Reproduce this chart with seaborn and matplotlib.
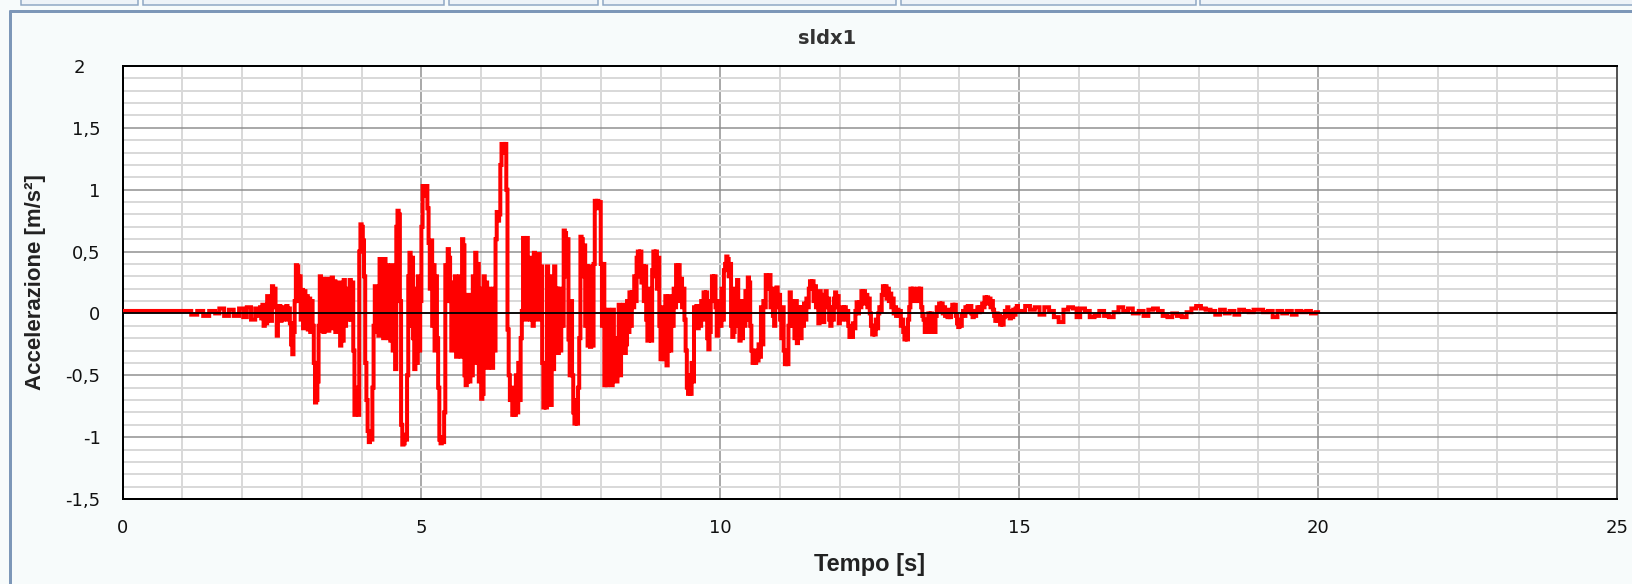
import numpy as np
import pandas as pd
import matplotlib
matplotlib.use("Agg")
import matplotlib.pyplot as plt
import matplotlib.transforms as mtransforms
import seaborn as sns
from matplotlib.ticker import MultipleLocator, FuncFormatter
from matplotlib.patches import Rectangle
from matplotlib.lines import Line2D

# ---- data (time [s], acceleration [m/s^2]) ----
# quiet start, read point by point
head_time = [0.00, 1.10, 1.15, 1.25, 1.35, 1.45, 1.55, 1.62, 1.70, 1.78, 1.86, 1.95,
             2.02, 2.08, 2.15, 2.22, 2.28]
head_accel = [0.02, 0.02, -0.01, 0.02, -0.02, 0.02, 0.00, 0.04, -0.02, 0.03, -0.02, 0.04,
              -0.03, 0.05, -0.05, 0.04, -0.02]

# strong-motion part, read every 0.02 s from 2.30 s to 15.00 s (one row = 0.5 s)
strong_start = 2.30
strong_dt = 0.02
strong_accel = [
    0.05, -0.04, 0.07, -0.10, 0.05, -0.08, 0.14, -0.05, 0.10, -0.06, 0.22, 0.08, 0.20, 0.05, -0.18, -0.05, 0.06, -0.06, 0.04, -0.05, 0.05, -0.03, 0.06, -0.05, 0.04,
    -0.08, -0.25, -0.33, -0.15, 0.10, 0.39, 0.38, 0.10, 0.30, -0.05, 0.19, -0.12, 0.18, -0.10, 0.14, -0.13, 0.12, -0.15, 0.10, -0.10, -0.40, -0.72, -0.70, -0.55, -0.10,
    0.30, -0.14, 0.28, -0.15, 0.25, -0.12, 0.28, -0.14, 0.22, -0.12, 0.29, -0.10, 0.26, -0.15, 0.20, -0.08, 0.25, -0.26, 0.10, -0.22, 0.27, -0.10, 0.20, -0.05, 0.10,
    0.27, -0.05, 0.25, -0.30, -0.82, -0.80, -0.60, -0.82, 0.50, 0.72, 0.70, 0.59, 0.30, -0.40, -0.70, -0.95, -1.04, -1.00, -1.02, -0.60, -0.10, 0.22, -0.15, 0.20, -0.18,
    0.44, -0.15, 0.40, -0.20, 0.44, -0.18, 0.39, -0.20, 0.35, -0.22, 0.39, -0.30, 0.20, -0.45, 0.70, 0.83, 0.80, 0.10, -0.90, -1.06, -1.05, -0.98, -1.02, -0.50, 0.30,
    0.49, -0.10, 0.45, -0.20, -0.45, 0.20, -0.40, 0.30, -0.30, 0.10, 0.70, 1.03, 1.02, 0.95, 1.03, 0.85, 0.57, 0.20, 0.59, -0.10, 0.39, -0.30, 0.30, -0.20, -0.60,
    -1.02, -1.05, -1.00, -1.04, -0.80, 0.39, 0.10, 0.52, 0.45, 0.10, -0.30, 0.25, -0.29, 0.30, -0.35, 0.25, -0.20, 0.30, -0.35, 0.60, 0.55, -0.50, -0.58, -0.55, 0.15,
    -0.55, 0.10, -0.50, 0.30, -0.30, 0.49, -0.40, 0.40, -0.55, 0.20, -0.69, -0.65, 0.30, -0.30, 0.25, -0.44, 0.20, -0.40, 0.10, -0.44, 0.20, -0.30, 0.60, 0.82, 0.75,
    0.80, 1.20, 1.37, 1.37, 1.30, 1.37, 1.00, -0.13, -0.50, -0.70, -0.60, -0.82, -0.75, -0.82, -0.50, -0.80, -0.40, -0.70, -0.20, 0.02, 0.61, 0.55, -0.05, 0.61, 0.20,
    0.10, -0.05, 0.45, -0.10, 0.49, 0.10, 0.45, -0.05, 0.48, 0.20, 0.38, -0.40, -0.76, -0.70, -0.76, 0.38, -0.70, 0.30, -0.74, 0.20, -0.45, 0.38, -0.30, 0.20, -0.32,
    0.20, -0.30, 0.05, -0.10, 0.67, 0.65, 0.30, 0.60, -0.21, -0.50, 0.10, -0.50, -0.80, -0.89, -0.70, -0.89, -0.60, -0.20, 0.62, 0.60, 0.30, 0.55, -0.10, 0.38, -0.26,
    0.38, -0.27, 0.35, -0.26, 0.40, 0.91, 0.88, 0.91, 0.85, 0.90, 0.40, -0.10, 0.40, -0.58, -0.40, -0.58, 0.03, -0.50, -0.30, -0.58, 0.03, -0.45, -0.20, -0.55, -0.35,
    0.07, -0.50, 0.05, -0.20, 0.07, -0.32, -0.25, 0.10, -0.15, 0.17, -0.10, 0.17, 0.05, 0.30, 0.10, 0.45, 0.50, 0.30, 0.50, 0.25, 0.38, 0.10, 0.38, -0.05, -0.22,
    -0.15, 0.20, -0.22, 0.35, 0.50, 0.30, 0.50, 0.20, 0.45, -0.10, -0.37, -0.30, 0.05, -0.37, 0.14, -0.42, -0.30, 0.14, -0.30, 0.10, -0.10, 0.20, 0.05, 0.39, 0.30,
    0.39, 0.10, 0.28, 0.05, 0.20, -0.05, -0.30, -0.60, -0.65, -0.50, -0.65, -0.40, -0.55, 0.05, -0.10, 0.06, -0.12, 0.06, -0.10, 0.10, -0.05, 0.17, 0.05, 0.17, -0.20,
    -0.29, -0.15, 0.10, 0.30, 0.25, 0.30, 0.05, -0.18, -0.10, 0.10, -0.10, 0.20, -0.05, 0.35, 0.40, 0.46, 0.44, 0.30, 0.40, -0.10, -0.19, -0.15, 0.20, 0.05, 0.27,
    -0.10, -0.22, 0.10, -0.20, 0.10, -0.10, 0.18, -0.05, 0.29, 0.25, -0.10, -0.30, -0.40, -0.38, -0.40, -0.30, -0.38, -0.25, -0.35, 0.05, -0.25, 0.10, 0.05, 0.31, 0.30,
    0.20, 0.31, 0.05, 0.20, -0.02, -0.10, 0.10, 0.21, 0.05, 0.15, -0.05, -0.20, 0.05, -0.30, -0.41, -0.38, -0.41, -0.10, 0.17, 0.10, -0.10, 0.05, -0.20, 0.10, -0.24,
    -0.15, 0.05, -0.20, 0.05, -0.10, 0.08, -0.05, 0.12, 0.05, 0.20, 0.26, 0.22, 0.26, 0.10, 0.22, 0.05,
    0.17, -0.08, 0.18, 0.05, 0.15, -0.07, 0.10, 0.18, 0.05, 0.12, -0.05, -0.10, 0.05, -0.05, 0.12, 0.17, 0.05, 0.14, -0.08, 0.03, -0.05, 0.05, -0.03, 0.05,
    -0.05, 0.02, -0.10, -0.19, -0.12, -0.19, -0.08, -0.12, 0.02, 0.09, 0.00, 0.09, 0.05, 0.18, 0.10, 0.18, 0.08, 0.15, 0.05, 0.12, 0.00, -0.10, -0.17, -0.10, -0.17,
    -0.05, -0.12, 0.00, 0.05, 0.02, 0.15, 0.22, 0.15, 0.22, 0.12, 0.20, 0.10, 0.16, 0.05, 0.12, 0.00, 0.05, -0.02, 0.03, -0.02, 0.02, -0.10, -0.05, -0.15, -0.21,
    -0.12, -0.21, -0.05, 0.05, 0.20, 0.12, 0.20, 0.10, 0.17, 0.12, 0.20, 0.10, 0.20, 0.05, -0.02, -0.05, -0.15, -0.08, -0.15, 0.00, -0.05, 0.00, -0.15, -0.08, -0.15,
    -0.02, 0.05, 0.02, 0.08, 0.03, 0.08, 0.00, 0.05, -0.02, 0.02, -0.03, 0.03, -0.03, 0.02, 0.07, 0.02, 0.07, -0.02, -0.08, -0.11, -0.05, -0.10, -0.02, 0.02, -0.02,
    0.05, 0.01, 0.06, 0.02, 0.06, 0.00, -0.03, 0.02, -0.02, 0.02, 0.05, 0.01, 0.05, 0.02, 0.08, 0.05, 0.13, 0.10, 0.13, 0.08, 0.12, 0.05, 0.10, 0.03, -0.02,
    -0.06, 0.00, -0.06, -0.02, -0.09, -0.04, -0.09, -0.03, 0.02, -0.02, 0.05, 0.00, -0.04, 0.02, -0.03, 0.03, -0.01, 0.04, 0.06, 0.02,
]

# decaying tail, read point by point
tail_time = [
    15.10, 15.18, 15.26, 15.34, 15.42, 15.50, 15.58, 15.66, 15.74, 15.82, 15.90, 15.96,
    16.02, 16.10, 16.18, 16.26, 16.34, 16.42, 16.50, 16.58, 16.66, 16.74, 16.82, 16.90,
    17.00, 17.08, 17.16, 17.24, 17.32, 17.40, 17.48, 17.56, 17.64, 17.72, 17.80, 17.88,
    17.96, 18.04, 18.12, 18.20, 18.28, 18.36, 18.44, 18.52, 18.60, 18.68, 18.76, 18.84,
    18.92, 19.00, 19.08, 19.16, 19.24, 19.32, 19.40, 19.48, 19.56, 19.64, 19.72, 19.80,
    19.88, 19.96, 20.00,
]
tail_accel = [
    0.06, 0.03, 0.05, -0.01, 0.05, 0.02, -0.03, -0.07, 0.03, 0.05, 0.04, -0.03,
    0.04, 0.02, -0.03, -0.02, 0.02, -0.02, -0.03, 0.01, 0.05, 0.02, 0.04, 0.00,
    0.02, -0.02, 0.03, 0.04, 0.02, -0.02, -0.03, 0.00, -0.02, -0.03, 0.01, 0.04,
    0.06, 0.04, 0.03, 0.02, -0.01, 0.03, 0.00, 0.02, -0.01, 0.03, 0.02, 0.01,
    0.03, 0.03, 0.01, 0.02, -0.03, 0.02, 0.00, 0.02, -0.01, 0.02, 0.01, 0.02,
    0.00, 0.01, 0.00,
]

title_text = "sldx1"
x_label = "Tempo [s]"
y_label = "Accelerazione [m/s²]"
x_major_ticks = [0, 5, 10, 15, 20, 25]
y_major_ticks = [-1.5, -1.0, -0.5, 0.0, 0.5, 1.0, 1.5, 2.0]

strong_time = list(np.round(strong_start + strong_dt * np.arange(len(strong_accel)), 3))
time_s = head_time + strong_time + tail_time
accel = head_accel + strong_accel + tail_accel

sns.set_theme(style="white")
plt.rcParams["font.family"] = ["DejaVu Sans"]

W, H = 1632, 584
PX = 72.0 / 100.0  # points per pixel at dpi 100

fig = plt.figure(figsize=(W / 100, H / 100), dpi=100, facecolor="#f7fbfb")

# window frame and tab strip (decoration)
frame_col = "#7d97b8"
fig.add_artist(Line2D([9.5 / W, 9.5 / W], [0, 1 - 11 / H], transform=fig.transFigure,
                      color=frame_col, lw=3 * PX))
fig.add_artist(Line2D([9.5 / W, 1], [1 - 11 / H, 1 - 11 / H], transform=fig.transFigure,
                      color=frame_col, lw=3 * PX))
tabs = [(21, 138), (143, 444), (449, 598), (603, 896), (901, 1196), (1200, 1640)]
for x0, x1 in tabs:
    fig.add_artist(Rectangle((x0 / W, 1 - 5 / H), (x1 - x0) / W, 10 / H,
                             transform=fig.transFigure, facecolor="#eef3f8",
                             edgecolor="#8ea6c4", lw=1.5 * PX))

ax = fig.add_axes([122.5 / W, 1 - 499 / H, (1617 - 122.5) / W, (499 - 66) / H])
ax.set_facecolor("white")

df = pd.DataFrame({"t": time_s, "a": accel})
sns.lineplot(data=df, x="t", y="a", ax=ax, color="#ff0000", lw=4.0 * PX,
             drawstyle="steps-post", estimator=None, sort=False, zorder=3,
             solid_joinstyle="miter", solid_capstyle="butt")
ax.axhline(0, color="black", lw=1.8 * PX, zorder=4)

ax.set_xlim(0, 25)
ax.set_ylim(-1.5, 2)
ax.set_xticks(x_major_ticks)
ax.set_yticks(y_major_ticks)
ax.xaxis.set_minor_locator(MultipleLocator(1))
ax.yaxis.set_minor_locator(MultipleLocator(0.1))
fmt = FuncFormatter(lambda v, p: f"{v:g}".replace(".", ","))
ax.xaxis.set_major_formatter(fmt)
ax.yaxis.set_major_formatter(fmt)

ax.grid(which="minor", color="#d9d9d9", lw=2 * PX, zorder=0)
ax.grid(which="major", color="#8e8e8e", lw=1.5 * PX, zorder=1)
ax.set_axisbelow(True)

for side in ["left", "bottom", "top", "right"]:
    ax.spines[side].set_visible(True)
    ax.spines[side].set_color("black")
    ax.spines[side].set_linewidth(2 * PX)
ax.spines["right"].set_color("#555555")

ax.tick_params(which="major", direction="inout", length=12 * PX, width=2 * PX,
               color="black", labelsize=13, labelcolor="#111111")
ax.tick_params(which="minor", direction="inout", length=7 * PX, width=1.6 * PX,
               color="black")
ax.tick_params(axis="y", which="major", pad=16 * PX)
ax.tick_params(axis="x", which="major", pad=14 * PX)
ax.tick_params(axis="x", which="both", top=False)
ax.tick_params(axis="y", which="both", right=False)

lab_font = ["Liberation Sans Narrow", "Liberation Sans", "DejaVu Sans"]
ax.set_xlabel(x_label, fontsize=17, fontweight="bold", family=lab_font,
              color="#222222", va="center")
ax.xaxis.set_label_coords(0.5, (499 - 565) / 433)
ax.set_ylabel(y_label, fontsize=16, fontweight="bold", family=lab_font,
              color="#222222", va="center")
ax.yaxis.set_label_coords((36 - 122.5) / 1494.5, 0.5)

fig.text(827 / W, 1 - 38 / H, title_text, ha="center", va="center",
         fontsize=14, fontweight="bold", color="#333333")

# the top tick label "2" sits further left in the reference
fig.canvas.draw()
for lab in ax.get_yticklabels():
    if lab.get_text() == "2":
        lab.set_transform(lab.get_transform() +
                          mtransforms.ScaledTranslation(-15 / 100, 0, fig.dpi_scale_trans))

fig.savefig("out.png", dpi=100, facecolor=fig.get_facecolor())
